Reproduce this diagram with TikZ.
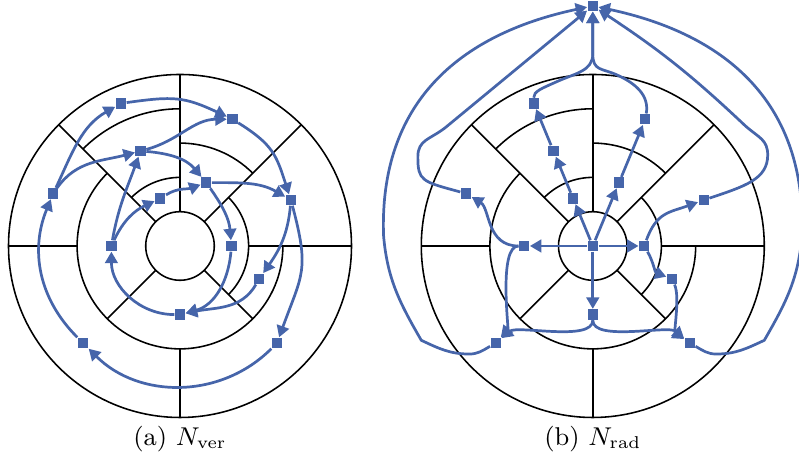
\documentclass[tikz,border=0pt]{standalone}
\usepackage{amsmath}
\usetikzlibrary{arrows.meta}
\definecolor{cellblue}{RGB}{70,101,170}

% polar cell grid, #1 = width of the 90 degree ray
\newcommand{\cellgrid}[1]{%
  \draw[line width=0.55pt] (0,0) circle (1);
  \draw[line width=0.55pt] (0,0) circle (5);
  \draw[line width=0.55pt] (135:3) arc[start angle=135,end angle=360,radius=3];
  \draw[line width=0.55pt] (45:3) arc[start angle=45,end angle=90,radius=3];
  \draw[line width=0.55pt] (90:2) arc[start angle=90,end angle=135,radius=2];
  \draw[line width=0.55pt] (-45:2) arc[start angle=-45,end angle=45,radius=2];
  \draw[line width=0.55pt] (90:4) arc[start angle=90,end angle=135,radius=4];
  \draw[line width=0.55pt] (45:1) -- (45:5);
  \draw[line width=0.55pt] (135:1) -- (135:5);
  \draw[line width=#1] (90:1) -- (90:5);
  \draw[line width=0.55pt] (0:2) -- (0:5);
  \draw[line width=0.55pt] (180:3) -- (180:5);
  \draw[line width=0.55pt] (225:1) -- (225:3);
  \draw[line width=0.55pt] (315:1) -- (315:3);
  \draw[line width=0.55pt] (270:3) -- (270:5);
}

\begin{document}
\begin{tikzpicture}[x=12pt,y=12pt,
  cell/.style={rectangle,fill=cellblue,minimum size=3.6pt,inner sep=0pt},
  link/.style={cellblue,line width=0.95pt,-{Triangle[length=4pt,width=4.4pt]}}]
\useasboundingbox (-5.248,-6.239) rectangle (18.047,7.172);

% (a) vertical neighbours
\cellgrid{0.95pt}
\node[cell] (a1) at (112.5:4.5) {};
\node[cell] (a2) at (67.5:4) {};
\node[cell] (a3) at (112.5:3) {};
\node[cell] (a4) at (67.5:2) {};
\node[cell] (a5) at (22.5:3.5) {};
\node[cell] (a6) at (157.5:4) {};
\node[cell] (a7) at (112.5:1.5) {};
\node[cell] (a8) at (180:2) {};
\node[cell] (a9) at (0:1.5) {};
\node[cell] (a10) at (-22.5:2.5) {};
\node[cell] (a11) at (270:2) {};
\node[cell] (a12) at (-45:4) {};
\node[cell] (a13) at (225:4) {};
\draw[link] (a6) to[out=65,in=-150] (a1);
\draw[link] (a6) to[out=55,in=-165] (a3);
\draw[link] (a1) to[out=8,in=155,looseness=1.2] (a2);
\draw[link] (a3) to[out=15,in=180] (a2);
\draw[link] (a3) to[out=-5,in=130] (a4);
\draw[link] (a7) to[out=32,in=-160] (a4);
\draw[link] (a8) to[out=65,in=-155] (a7);
\draw[link] (a8) to[out=80,in=-110] (a3);
\draw[link] (a2) to[out=-32,in=108,looseness=1.2] (a5);
\draw[link] (a4) to[out=0,in=150] (a5);
\draw[link] (a4) to[out=-55,in=95] (a9);
\draw[link] (a5) to[out=-95,in=55] (a10);
\draw[link] (a5) to[out=-75,in=70,looseness=1.3] (a12);
\draw[link] (a9) to[out=-95,in=15] (a11);
\draw[link] (a10) to[out=-120,in=12] (a11);
\draw[link] (a11) to[out=180,in=-90] (a8);
\draw[link] (a12) to[out=-135,in=-45] (a13);
\draw[link] (a13) to[out=135,in=-112.5] (a6);
\node[font=\small] (capa) at (0,-5.62) {(a) $N_{\mathrm{ver}}$};

% (b) radial neighbours
\begin{scope}[shift={(12.035,0)}]
\cellgrid{0.55pt}
\node[cell] (bc) at (0,0) {};
\node[cell] (bt) at (90:7) {};
\node[cell] (b1) at (112.5:4.5) {};
\node[cell] (b2) at (67.5:4) {};
\node[cell] (b3) at (112.5:3) {};
\node[cell] (b4) at (67.5:2) {};
\node[cell] (b5) at (22.5:3.5) {};
\node[cell] (b6) at (157.5:4) {};
\node[cell] (b7) at (112.5:1.5) {};
\node[cell] (b8) at (180:2) {};
\node[cell] (b9) at (0:1.5) {};
\node[cell] (b10) at (-22.5:2.5) {};
\node[cell] (b11) at (270:2) {};
\node[cell] (b12) at (-45:4) {};
\node[cell] (b13) at (225:4) {};
\draw[link] (bc) -- (b7);
\draw[link] (b7) -- (b3);
\draw[link] (b3) -- (b1);
\draw[link] (bc) -- (b4);
\draw[link] (b4) -- (b2);
\draw[link] (bc) -- (b8);
\draw[link] (bc) -- (b9);
\draw[link] (bc) -- (b11);
\draw[link] (b9) to[out=-60,in=160] (b10);
\draw[link] (b9) to[out=70,in=-160,looseness=1.2] (b5);
\draw[link] (b8) .. controls (-3.1,0) and (-3.0,1.1) .. (b6);
\draw[link] (b8) .. controls (-2.75,0) and (-2.45,-2.4) .. (b13);
\draw[link] (b11) .. controls (0,-2.8) and (-2.2,-2.3) .. (b13);
\draw[link] (b11) .. controls (0,-2.8) and (2.2,-2.3) .. (b12);
\draw[link] (b10) .. controls (2.55,-1.5) and (2.35,-2.5) .. (b12);
\draw[link] (b1) .. controls +(0,0.35) and +(-0.45,-0.2) .. (-1.05,4.79)
  .. controls +(0.55,0.25) and +(0,-0.5) .. (0,5.6) -- (bt);
\draw[link] (b2) .. controls +(0.12,0.7) and +(0.55,-0.25) .. (0.7,4.99)
  .. controls +(-0.45,0.2) and +(0,-0.5) .. (0,5.6) -- (bt);
\draw[link] (b6) .. controls +(-1.3,0.35) and +(0,-0.7) .. (-5.1,2.6)
  .. controls +(0,0.5) and +(-0.45,-0.35) .. (-4.3,3.45) -- (bt);
\draw[link] (b5) .. controls +(1.2,0.4) and +(0,-0.7) .. (5.1,2.65)
  .. controls +(0,0.45) and +(0.4,-0.35) .. (4.45,3.5) to[bend right=5] (bt);
\draw[link] (b13) to[out=-150,in=0] (-3.6,-3.15) to[out=180,in=-25] (-5.0,-2.75)
  to[out=120,in=-85] (-6.1,0.3) to[out=92,in=192,looseness=1.1] (bt);
\draw[link] (b12) to[out=-30,in=180] (3.6,-3.15) to[out=0,in=-155] (5.0,-2.75)
  to[out=60,in=-95] (6.1,0.3) to[out=88,in=-12,looseness=1.1] (bt);
\node[font=\small] (capb) at (0,-5.62) {(b) $N_{\mathrm{rad}}$};
\end{scope}
\end{tikzpicture}
\end{document}
